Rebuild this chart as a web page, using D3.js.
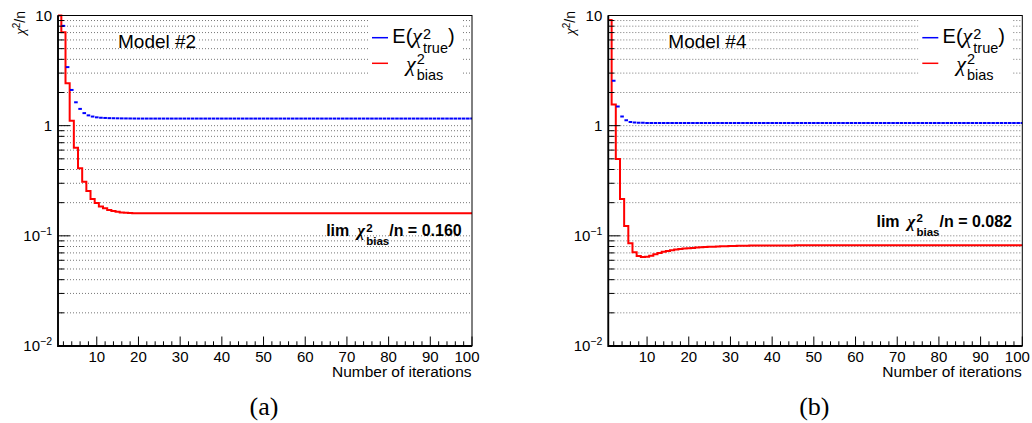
<!DOCTYPE html>
<html>
<head>
<meta charset="utf-8">
<script src="https://cdn.jsdelivr.net/npm/d3@7"></script>
<style>
body { margin: 0; background: #fff; }
svg { font-family: "Liberation Sans", Arial, sans-serif; }
</style>
</head>
<body>
<svg width="1032" height="423"></svg>
<script>
// iteration number of each bin
var iterations = d3.range(1, 101);

// Model #2, expected chi2/n of the true model (blue)
var model2True = [
    14, 8.05, 3.40, 2.11, 1.63, 1.42, 1.30, 1.24, 1.21, 1.19,
    1.18, 1.175, 1.17, 1.168, 1.166, 1.164, 1.163, 1.162, 1.161, 1.16,
    1.16, 1.16, 1.16, 1.16, 1.16, 1.16, 1.16, 1.16, 1.16, 1.16,
    1.16, 1.16, 1.16, 1.16, 1.16, 1.16, 1.16, 1.16, 1.16, 1.16,
    1.16, 1.16, 1.16, 1.16, 1.16, 1.16, 1.16, 1.16, 1.16, 1.16,
    1.16, 1.16, 1.16, 1.16, 1.16, 1.16, 1.16, 1.16, 1.16, 1.16,
    1.16, 1.16, 1.16, 1.16, 1.16, 1.16, 1.16, 1.16, 1.16, 1.16,
    1.16, 1.16, 1.16, 1.16, 1.16, 1.16, 1.16, 1.16, 1.16, 1.16,
    1.16, 1.16, 1.16, 1.16, 1.16, 1.16, 1.16, 1.16, 1.16, 1.16,
    1.16, 1.16, 1.16, 1.16, 1.16, 1.16, 1.16, 1.16, 1.16, 1.16
];
// Model #2, chi2_bias/n (red)
var model2Bias = [
    10, 7.04, 2.43, 1.11, 0.631, 0.41, 0.31, 0.255, 0.216, 0.199,
    0.185, 0.178, 0.172, 0.168, 0.165, 0.163, 0.162, 0.161, 0.160, 0.160,
    0.160, 0.160, 0.160, 0.160, 0.160, 0.160, 0.160, 0.160, 0.160, 0.160,
    0.160, 0.160, 0.160, 0.160, 0.160, 0.160, 0.160, 0.160, 0.160, 0.160,
    0.160, 0.160, 0.160, 0.160, 0.160, 0.160, 0.160, 0.160, 0.160, 0.160,
    0.160, 0.160, 0.160, 0.160, 0.160, 0.160, 0.160, 0.160, 0.160, 0.160,
    0.160, 0.160, 0.160, 0.160, 0.160, 0.160, 0.160, 0.160, 0.160, 0.160,
    0.160, 0.160, 0.160, 0.160, 0.160, 0.160, 0.160, 0.160, 0.160, 0.160,
    0.160, 0.160, 0.160, 0.160, 0.160, 0.160, 0.160, 0.160, 0.160, 0.160,
    0.160, 0.160, 0.160, 0.160, 0.160, 0.160, 0.160, 0.160, 0.160, 0.160
];
// Model #4, expected chi2/n of the true model (blue)
var model4True = [
    14, 2.56, 1.49, 1.21, 1.12, 1.08, 1.07, 1.065, 1.062, 1.06,
    1.06, 1.06, 1.06, 1.06, 1.06, 1.06, 1.06, 1.06, 1.06, 1.06,
    1.06, 1.06, 1.06, 1.06, 1.06, 1.06, 1.06, 1.06, 1.06, 1.06,
    1.06, 1.06, 1.06, 1.06, 1.06, 1.06, 1.06, 1.06, 1.06, 1.06,
    1.06, 1.06, 1.06, 1.06, 1.06, 1.06, 1.06, 1.06, 1.06, 1.06,
    1.06, 1.06, 1.06, 1.06, 1.06, 1.06, 1.06, 1.06, 1.06, 1.06,
    1.06, 1.06, 1.06, 1.06, 1.06, 1.06, 1.06, 1.06, 1.06, 1.06,
    1.06, 1.06, 1.06, 1.06, 1.06, 1.06, 1.06, 1.06, 1.06, 1.06,
    1.06, 1.06, 1.06, 1.06, 1.06, 1.06, 1.06, 1.06, 1.06, 1.06,
    1.06, 1.06, 1.06, 1.06, 1.06, 1.06, 1.06, 1.06, 1.06, 1.06
];
// Model #4, chi2_bias/n (red)
var model4Bias = [
    9.1, 1.56, 0.498, 0.216, 0.123, 0.0855, 0.071, 0.0656, 0.0644, 0.0646,
    0.0658, 0.068, 0.070, 0.0716, 0.073, 0.0741, 0.0751, 0.0759, 0.0766, 0.0772,
    0.0777, 0.0782, 0.0786, 0.079, 0.0794, 0.0798, 0.0801, 0.0804, 0.0806, 0.0808,
    0.081, 0.0812, 0.0813, 0.0814, 0.0815, 0.0816, 0.0817, 0.0817, 0.0818, 0.0818,
    0.0819, 0.0819, 0.0819, 0.0819, 0.0819, 0.082, 0.082, 0.082, 0.082, 0.082,
    0.082, 0.082, 0.082, 0.082, 0.082, 0.082, 0.082, 0.082, 0.082, 0.082,
    0.082, 0.082, 0.082, 0.082, 0.082, 0.082, 0.082, 0.082, 0.082, 0.082,
    0.082, 0.082, 0.082, 0.082, 0.082, 0.082, 0.082, 0.082, 0.082, 0.082,
    0.082, 0.082, 0.082, 0.082, 0.082, 0.082, 0.082, 0.082, 0.082, 0.082,
    0.082, 0.082, 0.082, 0.082, 0.082, 0.082, 0.082, 0.082, 0.082, 0.082
];

var xTickLabels = [10, 20, 30, 40, 50, 60, 70, 80, 90, 100];
var yTickValues = [0.01, 0.1, 1, 10];
var yTickLabels = [["10", "\u22122"], ["10", "\u22121"], ["1", ""], ["10", ""]];
var modelTitles = ["Model #2", "Model #4"];
var limValues = ["0.160", "0.082"];
var captions = ["(a)", "(b)"];

var svg = d3.select("svg");
var CHI_FONT = "'Liberation Serif', 'DejaVu Serif', serif";

var x = d3.scaleLinear().domain([0.7, 100]).range([58, 472]);
var y = d3.scaleLog().domain([0.01, 10]).range([346, 15.5]);

svg.append("defs").append("clipPath").attr("id", "plotclip")
    .append("rect")
    .attr("x", 58).attr("y", 14)
    .attr("width", 414).attr("height", 333);

// lays out text pieces left to right, sup/sub stacked, returns the group
function richText(g, px, py, parts, anchor, weight) {
    var grp = g.append("g").style("font-weight", weight || "normal");
    var cx = 0;
    parts.forEach(function (p) {
        if (p.gap) { cx += p.gap; return; }
        if (p.sup !== undefined) {
            var a = grp.append("text").attr("x", cx).attr("y", -p.up)
                .style("font-size", p.size + "px").text(p.sup);
            var b = grp.append("text").attr("x", cx).attr("y", p.down)
                .style("font-size", p.size + "px").text(p.sub);
            cx += Math.max(a.node().getComputedTextLength(), b.node().getComputedTextLength());
        } else {
            var t = grp.append("text").attr("x", cx).attr("y", p.dy || 0)
                .style("font-size", p.size + "px").text(p.t);
            if (p.chi) t.style("font-family", CHI_FONT).style("font-style", "italic");
            cx += t.node().getComputedTextLength() + (p.after || 0);
        }
    });
    var shift = anchor === "end" ? -cx : (anchor === "middle" ? -cx / 2 : 0);
    grp.attr("transform", "translate(" + (px + shift) + "," + py + ")");
    return grp;
}

var panels = [
    { ox: 0, title: modelTitles[0], truth: model2True, bias: model2Bias, lim: limValues[0], limY: 236, caption: captions[0] },
    { ox: 550.3, title: modelTitles[1], truth: model4True, bias: model4Bias, lim: limValues[1], limY: 226.7, caption: captions[1] }
];

panels.forEach(function (pn) {
    var g = svg.append("g").attr("transform", "translate(" + pn.ox + ",0)");

    // dotted horizontal grid at every log tick
    var grid = y.ticks().filter(function (d) { return d > 0.0101; });
    g.append("g").selectAll("line").data(grid).join("line")
        .attr("x1", 58).attr("x2", 472)
        .attr("y1", function (d) { return y(d); })
        .attr("y2", function (d) { return y(d); })
        .attr("stroke", "#777").attr("stroke-width", 1)
        .attr("stroke-dasharray", "1,2");

    // legend box hides the grid
    g.append("rect").attr("x", 368).attr("y", 17).attr("width", 94).attr("height", 63)
        .attr("fill", "#fff");

    // title
    var tt = g.append("text").attr("x", 118).attr("y", 48.3)
        .style("font-size", "19px").text(pn.title);
    var tw = tt.node().getComputedTextLength();
    g.insert("rect", "text").attr("x", 116).attr("y", 34).attr("width", tw + 4).attr("height", 12)
        .attr("fill", "#fff");

    var plot = g.append("g").attr("clip-path", "url(#plotclip)");

    // bias: step histogram
    var steps = iterations.map(function (it, i) { return [it - 0.5, pn.bias[i]]; });
    steps.push([iterations[iterations.length - 1] + 0.5, pn.bias[pn.bias.length - 1]]);
    var line = d3.line()
        .x(function (d) { return x(d[0]); })
        .y(function (d) { return y(d[1]); })
        .curve(d3.curveStepAfter);
    plot.append("path").attr("d", line(steps))
        .attr("fill", "none").attr("stroke", "#ff0000").attr("stroke-width", 2);

    // truth: short horizontal dash per bin
    plot.append("g").selectAll("line").data(iterations).join("line")
        .attr("x1", function (d) { return x(d) - 1.8; })
        .attr("x2", function (d) { return x(d) + 1.8; })
        .attr("y1", function (d, i) { return y(pn.truth[i]); })
        .attr("y2", function (d, i) { return y(pn.truth[i]); })
        .attr("stroke", "#0000ff").attr("stroke-width", 2);

    // frame
    g.append("rect").attr("x", 58).attr("y", 15.5).attr("width", 414).attr("height", 330.5)
        .attr("fill", "none").attr("stroke", "#000").attr("stroke-width", 1);
    g.append("path").attr("d", "M58,15.5V346H472")
        .attr("fill", "none").attr("stroke", "#000").attr("stroke-width", 1.8);

    // y ticks
    var ymaj = yTickValues;
    g.append("g").selectAll("line").data(y.ticks()).join("line")
        .attr("x1", 58)
        .attr("x2", function (d) { return ymaj.indexOf(d) >= 0 ? 70 : 64; })
        .attr("y1", function (d) { return y(d); })
        .attr("y2", function (d) { return y(d); })
        .attr("stroke", "#000").attr("stroke-width", 1);

    yTickValues.forEach(function (v, i) {
        var lab = yTickLabels[i];
        var parts = [{ t: lab[0], size: 15 }];
        if (lab[1]) parts.push({ t: lab[1], size: 10.5, dy: -6 });
        richText(g, 52, y(v) + 5.3, parts, "end");
    });

    // x ticks
    var xminor = d3.range(2, 101, 2);
    g.append("g").selectAll("line").data(xminor).join("line")
        .attr("x1", function (d) { return x(d); })
        .attr("x2", function (d) { return x(d); })
        .attr("y1", 346)
        .attr("y2", function (d) { return xTickLabels.indexOf(d) >= 0 ? 336.5 : 341.3; })
        .attr("stroke", "#000").attr("stroke-width", 1);
    g.append("g").selectAll("text").data(xTickLabels).join("text")
        .attr("x", function (d) { return x(d) - (d === 100 ? 5 : 0); })
        .attr("y", 361.7)
        .attr("text-anchor", "middle")
        .style("font-size", "15px")
        .text(function (d) { return d; });

    g.append("text").attr("x", 471.5).attr("y", 377).attr("text-anchor", "end")
        .style("font-size", "15.5px").text("Number of iterations");

    // y title
    var yt = g.append("g").attr("transform", "translate(25,11) rotate(-90)");
    richText(yt, 0, 0, [
        { t: "\u03c7", size: 15, chi: true },
        { sup: "2", sub: "", size: 10, up: 5, down: 0 },
        { t: "/n", size: 14 }
    ], "end");

    // legend
    g.append("line").attr("x1", 372).attr("x2", 388).attr("y1", 37.7).attr("y2", 37.7)
        .attr("stroke", "#0000ff").attr("stroke-width", 1.5);
    g.append("line").attr("x1", 372).attr("x2", 388).attr("y1", 63.3).attr("y2", 63.3)
        .attr("stroke", "#ff0000").attr("stroke-width", 1.5);
    richText(g, 392.3, 43.3, [
        { t: "E(", size: 20 },
        { t: "\u03c7", size: 22, chi: true, after: 1 },
        { sup: "2", sub: "true", size: 14.5, up: 4, down: 10 },
        { t: ")", size: 20 }
    ], "start");
    richText(g, 406, 71, [
        { t: "\u03c7", size: 22, chi: true, after: 1 },
        { sup: "2", sub: "bias", size: 14.5, up: 7, down: 9 }
    ], "start");

    // limit annotation
    richText(g, 461.7, pn.limY, [
        { t: "lim", size: 16 },
        { gap: 8 },
        { t: "\u03c7", size: 17, chi: true, after: 1 },
        { sup: "2", sub: "bias", size: 11.5, up: 4.3, down: 9 },
        { t: "/n = " + pn.lim, size: 16 }
    ], "end", "bold");

    // caption
    g.append("text").attr("x", 264).attr("y", 415).attr("text-anchor", "middle")
        .style("font-family", "'Liberation Serif', 'DejaVu Serif', serif")
        .style("font-size", "26px").text(pn.caption);
});
</script>
</body>
</html>
